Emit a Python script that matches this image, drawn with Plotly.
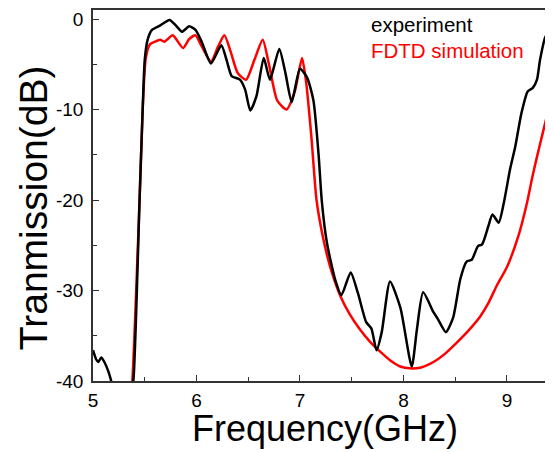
import plotly.graph_objects as go

exp_freq = [5.00, 5.03, 5.05, 5.08, 5.11, 5.15, 5.19, 5.22, 5.36, 5.39, 5.45, 5.48, 5.50, 5.53,
            5.57, 5.65, 5.74, 5.80, 5.86, 5.93, 5.99, 6.05, 6.14, 6.24, 6.29, 6.34, 6.42, 6.47,
            6.52, 6.58, 6.65, 6.71, 6.80, 6.86, 6.92, 7.00, 7.07, 7.13, 7.18, 7.21, 7.26, 7.34,
            7.40, 7.49, 7.56, 7.64, 7.69, 7.74, 7.79, 7.87, 7.97, 8.08, 8.13, 8.19, 8.29, 8.33,
            8.41, 8.48, 8.55, 8.61, 8.66, 8.72, 8.76, 8.82, 8.86, 8.92, 8.97, 9.03, 9.08, 9.14,
            9.20, 9.25, 9.29, 9.32, 9.37, 9.44, 9.47]
exp_db = [-36.6, -37.6, -37.9, -37.4, -37.9, -39.0, -40.6, -42.0, -42.0, -40.0, -20.0, -10.0, -4.5, -2.2,
          -1.2, -0.7, -0.1, -0.7, -1.4, -0.8, -1.2, -2.5, -4.9, -2.9, -4.5, -6.3, -6.7, -7.8,
          -10.1, -8.5, -4.3, -6.7, -3.3, -6.0, -9.2, -5.5, -6.5, -9.0, -15.0, -20.0, -24.7, -28.8,
          -30.5, -28.0, -30.3, -33.5, -34.2, -36.6, -34.6, -29.0, -31.9, -38.4, -34.3, -30.2, -32.4, -33.1,
          -34.6, -33.0, -28.7, -26.8, -26.6, -25.1, -24.9, -22.9, -21.6, -22.5, -20.3, -16.6, -14.1, -10.4,
          -8.0, -7.6, -6.7, -4.5, -2.0, -0.9, -0.6]

sim_freq = [5.36, 5.38, 5.45, 5.48, 5.51, 5.55, 5.60, 5.65, 5.69, 5.77, 5.87, 5.93, 5.99, 6.05,
            6.14, 6.21, 6.27, 6.33, 6.40, 6.48, 6.56, 6.64, 6.70, 6.78, 6.87, 6.95, 7.02, 7.06,
            7.11, 7.16, 7.22, 7.29, 7.39, 7.48, 7.58, 7.68, 7.77, 7.87, 7.97, 8.06, 8.17, 8.29,
            8.40, 8.52, 8.63, 8.74, 8.82, 8.90, 9.00, 9.11, 9.19, 9.25, 9.32, 9.38, 9.44, 9.47]
sim_db = [-42.0, -40.0, -20.0, -10.0, -4.3, -2.8, -2.5, -2.3, -2.5, -1.8, -3.2, -2.2, -1.8, -3.0,
          -4.7, -3.0, -1.8, -3.6, -6.0, -6.7, -4.5, -2.3, -5.0, -9.0, -10.0, -8.0, -4.3, -7.0,
          -13.0, -20.0, -24.0, -27.3, -30.6, -32.6, -34.3, -35.7, -36.7, -37.7, -38.4, -38.6, -38.5, -37.9,
          -37.0, -35.7, -34.4, -32.9, -31.4, -29.5, -27.4, -24.0, -20.5, -17.2, -13.8, -11.0, -8.3, -6.8]

x_ticks = [5, 6, 7, 8, 9]
y_ticks = [0, -10, -20, -30, -40]

FONT = "Arial, 'Liberation Sans', sans-serif"

fig = go.Figure()
fig.add_trace(go.Scatter(x=sim_freq, y=sim_db, mode="lines", name="FDTD simulation",
                         line=dict(color="#ff0000", width=2.5, shape="spline", smoothing=0.6)))
fig.add_trace(go.Scatter(x=exp_freq, y=exp_db, mode="lines", name="experiment",
                         line=dict(color="#000000", width=2.5, shape="spline", smoothing=0.6)))

# the page body adds an 8px offset, so the figure is sized to fill the rest of the window
fig.update_layout(
    width=545, height=444,
    margin=dict(l=85, r=0, t=2, b=71),
    paper_bgcolor="white", plot_bgcolor="white",
    showlegend=False,
    font=dict(family=FONT, color="black"),
    xaxis=dict(range=[5, 9.445], tickvals=x_ticks, ticktext=[str(v) for v in x_ticks],
               ticks="inside", ticklen=6, tickwidth=1.3, tickcolor="#333",
               minor=dict(dtick=0.5, tick0=5, ticks="inside", ticklen=4, tickcolor="#333"),
               showline=True, linecolor="#333", linewidth=1.5, mirror=True,
               showgrid=False, zeroline=False,
               tickfont=dict(size=19), ticklabelstandoff=1),
    yaxis=dict(range=[-40, 1], tickvals=y_ticks, ticktext=[str(v) for v in y_ticks],
               ticks="inside", ticklen=6, tickwidth=1.3, tickcolor="#333",
               minor=dict(dtick=5, tick0=0, ticks="inside", ticklen=4, tickcolor="#333"),
               showline=True, linecolor="#333", linewidth=1.5, mirror=False,
               showgrid=False, zeroline=False,
               tickfont=dict(size=19), ticklabelstandoff=4),
)

# axis titles
fig.add_annotation(xref="paper", yref="paper", x=0.504, y=-0.1285, xanchor="center", yanchor="middle",
                   text="Frequency(GHz)", showarrow=False, font=dict(size=36, color="black"))
fig.add_annotation(xref="paper", yref="paper", x=-0.1304, y=0.466, xanchor="center", yanchor="middle",
                   text="Tranmission(dB)", textangle=-90, showarrow=False,
                   font=dict(size=39, color="black"))

# legend texts
fig.add_annotation(xref="paper", yref="paper", x=0.600, y=0.96, xanchor="left", yanchor="middle",
                   text="experiment", showarrow=False, font=dict(size=20.5, color="black"))
fig.add_annotation(xref="paper", yref="paper", x=0.600, y=0.892, xanchor="left", yanchor="middle",
                   text="FDTD simulation", showarrow=False, font=dict(size=20.5, color="#ff0000"))

fig.write_html("out.html")
